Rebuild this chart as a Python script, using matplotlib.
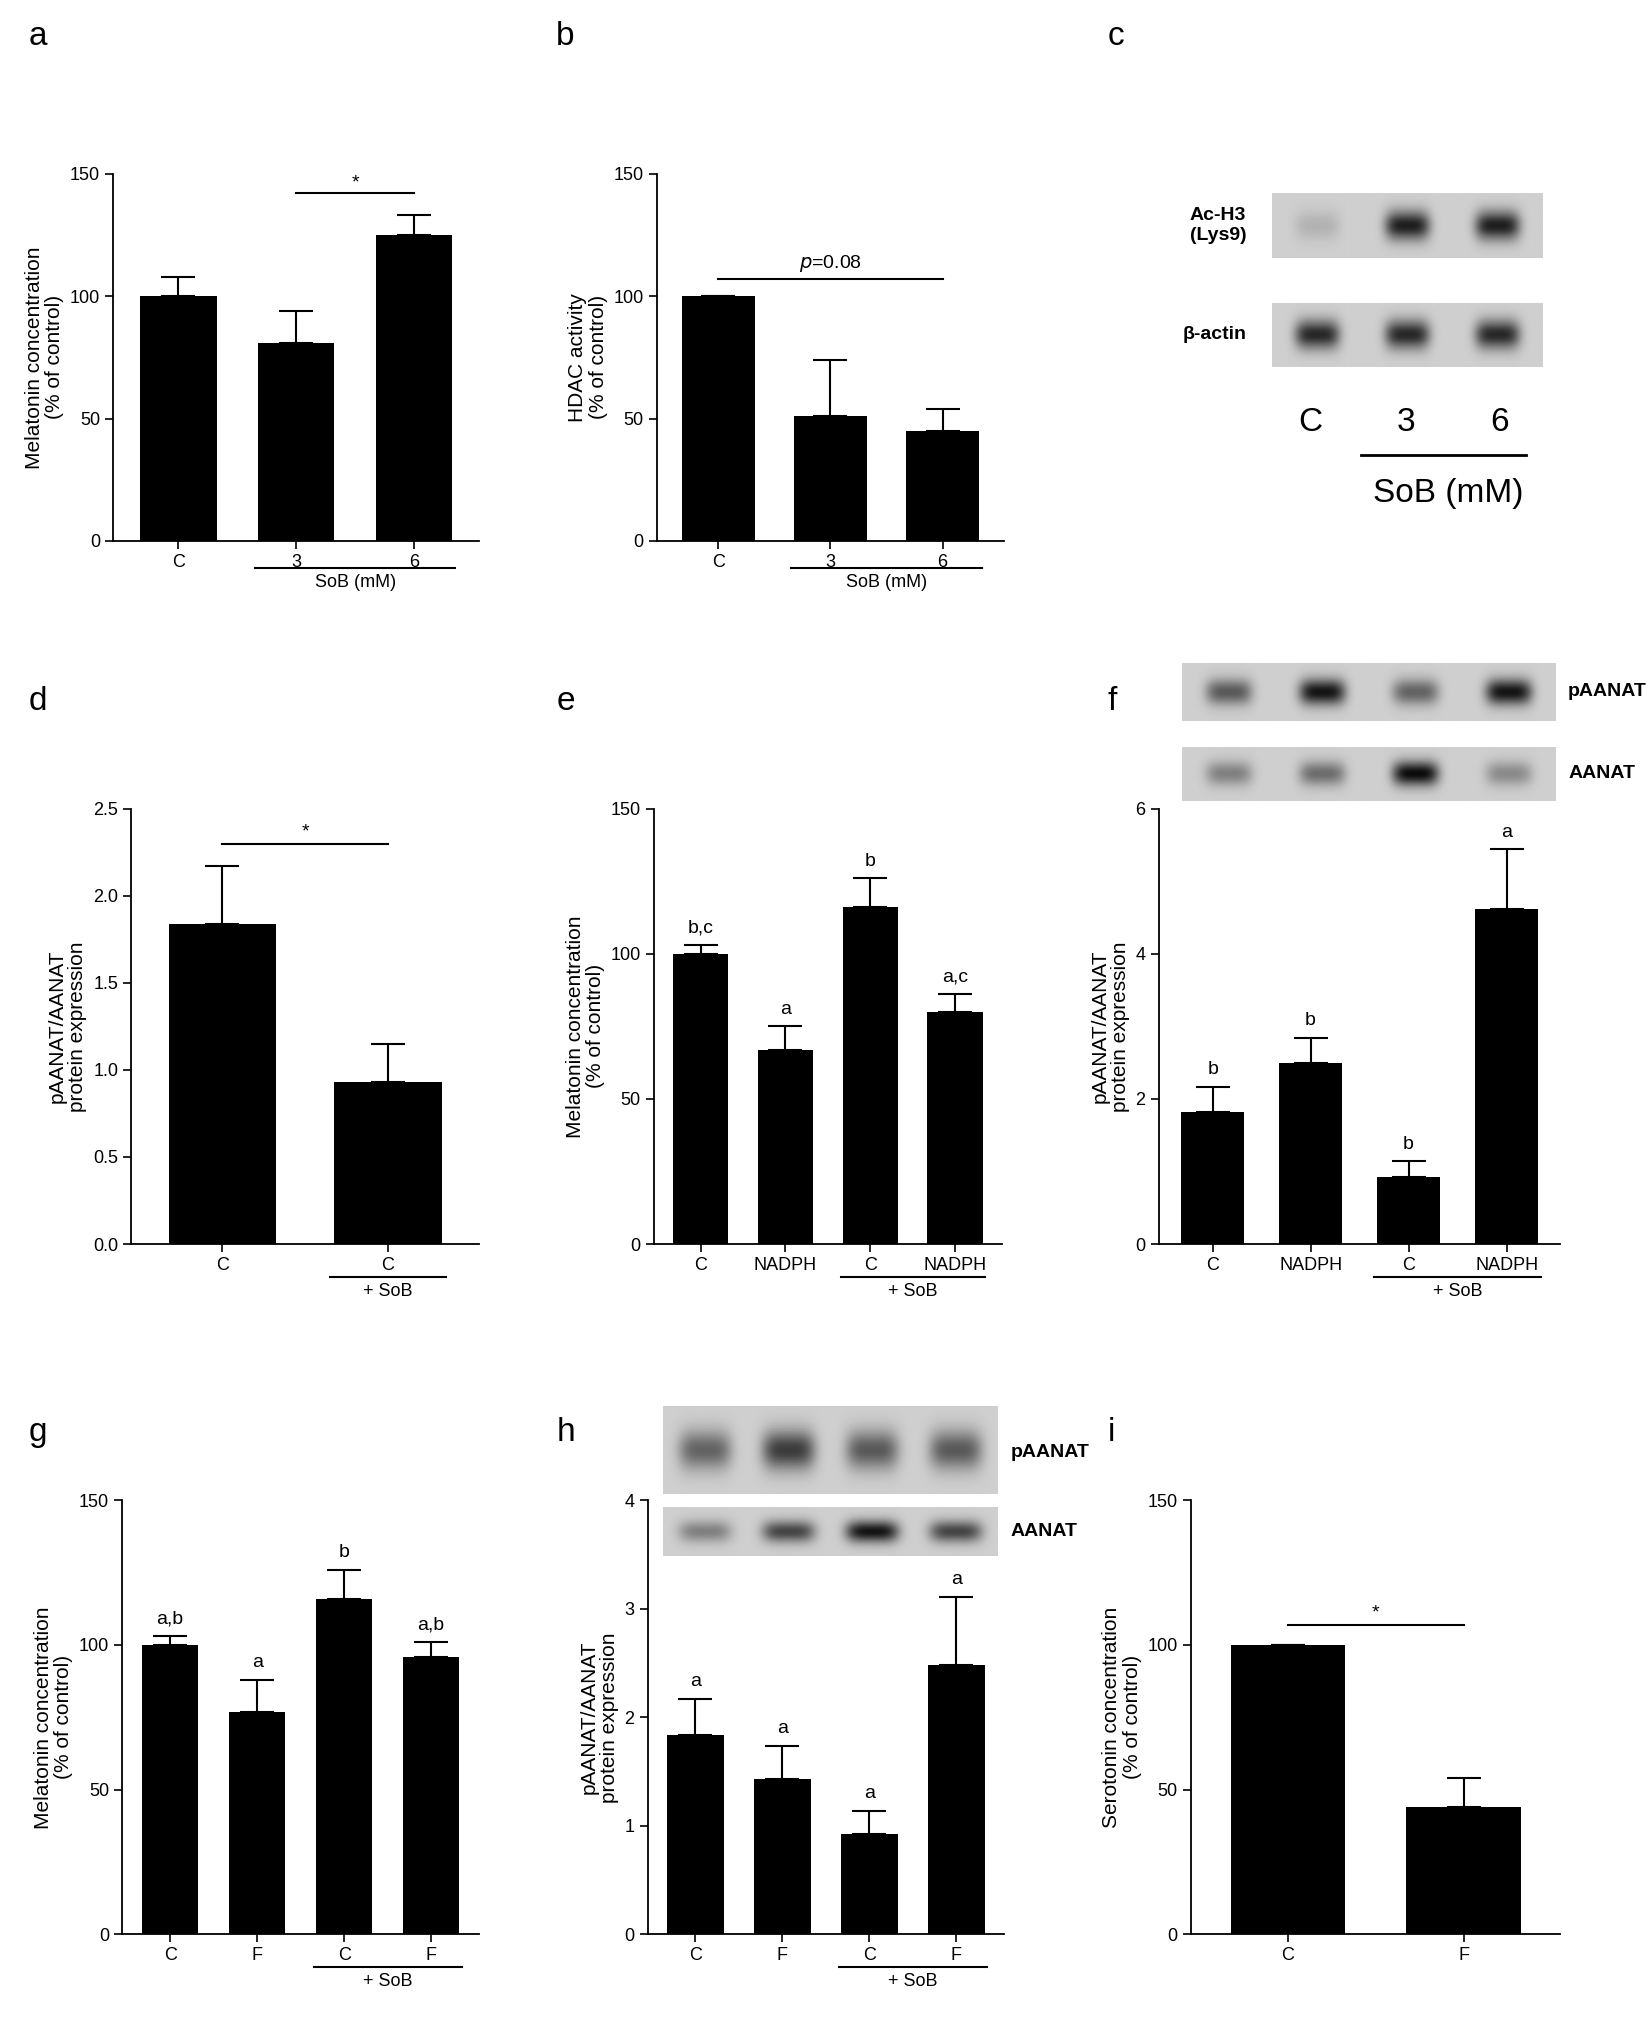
import numpy as np
import matplotlib
matplotlib.use("Agg")
import matplotlib.pyplot as plt

plt.rcParams["font.family"] = ["Liberation Sans", "DejaVu Sans"]
plt.rcParams["font.size"] = 12

W, H = 1280.0, 1567.0

# ---- data ----
a_lab = ["C", "3", "6"]
a_val = [100, 81, 125]
a_err = [8, 13, 8]

b_lab = ["C", "3", "6"]
b_val = [100, 51, 45]
b_err = [0, 23, 9]

d_lab = ["C", "C"]
d_val = [1.84, 0.93]
d_err = [0.33, 0.22]

e_lab = ["C", "NADPH", "C", "NADPH"]
e_val = [100, 67, 116, 80]
e_err = [3, 8, 10, 6]
e_let = ["b,c", "a", "b", "a,c"]

f_lab = ["C", "NADPH", "C", "NADPH"]
f_val = [1.82, 2.49, 0.92, 4.62]
f_err = [0.35, 0.35, 0.22, 0.82]
f_let = ["b", "b", "b", "a"]

g_lab = ["C", "F", "C", "F"]
g_val = [100, 77, 116, 96]
g_err = [3, 11, 10, 5]
g_let = ["a,b", "a", "b", "a,b"]

h_lab = ["C", "F", "C", "F"]
h_val = [1.84, 1.43, 0.92, 2.48]
h_err = [0.33, 0.31, 0.22, 0.63]
h_let = ["a", "a", "a", "a"]

i_lab = ["C", "F"]
i_val = [100, 44]
i_err = [0, 10]

c_ach3 = [0.15, 0.9, 0.9]
c_actin = [0.85, 0.85, 0.85]
f_p = [0.6, 0.95, 0.55, 0.95]
f_t = [0.4, 0.5, 1.0, 0.35]
h_p = [0.55, 0.75, 0.6, 0.6]
h_t = [0.4, 0.7, 0.95, 0.7]


def box(x0, y0, x1, y1):
    return [x0 / W, 1 - y1 / H, (x1 - x0) / W, (y1 - y0) / H]


fig = plt.figure(figsize=(16.48, 20.18), dpi=100)


def barpanel(rect, labels, vals, errs, ylim, ticks, ylabel, letters=None,
             group=None, tickfmt=None):
    ax = fig.add_axes(box(*rect))
    x = np.arange(len(vals))
    ax.bar(x, vals, width=0.65, color="black",
           yerr=[np.zeros(len(vals)), errs],
           error_kw=dict(capsize=12, elinewidth=1.5, capthick=1.5, ecolor="black"))
    ax.set_xlim(-0.55, len(vals) - 0.45)
    ax.set_ylim(*ylim)
    ax.set_yticks(ticks)
    if tickfmt:
        ax.set_yticklabels([tickfmt.format(t) for t in ticks])
    ax.set_xticks(x)
    ax.set_xticklabels(labels, fontsize=13)
    ax.tick_params(labelsize=13, width=1.2, length=6)
    ax.spines[["top", "right"]].set_visible(False)
    for s in ["left", "bottom"]:
        ax.spines[s].set_linewidth(1.3)
    ax.set_ylabel(ylabel, fontsize=15, linespacing=1.1)
    if letters:
        for xi, v, e, l in zip(x, vals, errs, letters):
            ax.text(xi, v + e + (ylim[1] * 0.02), l, ha="center", va="bottom", fontsize=14)
    if group:
        i0, i1, txt = group
        ax.plot([i0 - 0.35, i1 + 0.35], [-0.075 * ylim[1]] * 2, color="black",
                lw=1.5, clip_on=False)
        ax.text((i0 + i1) / 2, -0.09 * ylim[1], txt, ha="center", va="top", fontsize=13)
    return ax


def sig(ax, x0, x1, y, txt, dy=2):
    ax.plot([x0, x1], [y, y], color="black", lw=1.5)
    ax.text((x0 + x1) / 2, y + dy, txt, ha="center", va="bottom", fontsize=14)


def blot(rect, levels, label, bg="#cfcfcf", width=0.55):
    ax = fig.add_axes(box(*rect))
    n = len(levels)
    xx = np.linspace(0, n, 400)
    yy = np.linspace(-1, 1, 60)
    X, Y = np.meshgrid(xx, yy)
    img = np.zeros_like(X)
    for k, lv in enumerate(levels):
        img += lv * np.exp(-((X - k - 0.5) / (width * 0.45)) ** 4 - (Y / 0.45) ** 2)
    img = np.clip(img, 0, 1)
    base = int(bg[1:3], 16) / 255.0
    ax.imshow(base * (1 - img * 0.95), cmap="gray", vmin=0, vmax=1, aspect="auto",
              extent=[0, n, -1, 1])
    ax.set_xticks([])
    ax.set_yticks([])
    for s in ax.spines.values():
        s.set_visible(False)
    return ax


# panel a
ax = barpanel((88, 135, 372, 420), a_lab, a_val, a_err, (0, 150), [0, 50, 100, 150],
              "Melatonin concentration\n(% of control)", group=(1, 2, "SoB (mM)"))
sig(ax, 1, 2, 142, "*", 1)
# panel b
ax = barpanel((510, 135, 780, 420), b_lab, b_val, b_err, (0, 150), [0, 50, 100, 150],
              "HDAC activity\n(% of control)", group=(1, 2, "SoB (mM)"))
sig(ax, 0, 2, 107, "$p$=0.08", 2)
# panel c
a1 = blot((988, 150, 1198, 200), c_ach3, "")
a2 = blot((988, 235, 1198, 285), c_actin, "")
fig.text(968 / W, 1 - 175 / H, "Ac-H3\n(Lys9)", ha="right", va="center",
         fontsize=14, fontweight="bold")
fig.text(968 / W, 1 - 260 / H, "β-actin", ha="right", va="center",
         fontsize=14, fontweight="bold")
for xp, t in zip([1018, 1092, 1165], ["C", "3", "6"]):
    fig.text(xp / W, 1 - 328 / H, t, ha="center", va="center", fontsize=24)
fig.add_artist(plt.Line2D([1057 / W, 1185 / W], [1 - 353 / H] * 2, color="black", lw=2))
fig.text(1125 / W, 1 - 383 / H, "SoB (mM)", ha="center", va="center", fontsize=24)

# panel d
ax = barpanel((102, 628, 372, 966), d_lab, d_val, d_err, (0, 2.5),
              [0, 0.5, 1.0, 1.5, 2.0, 2.5], "pAANAT/AANAT\nprotein expression",
              group=(1, 1, "+ SoB"), tickfmt="{:.1f}")
sig(ax, 0, 1, 2.3, "*", 0.02)
# panel e
barpanel((508, 628, 778, 966), e_lab, e_val, e_err, (0, 150), [0, 50, 100, 150],
         "Melatonin concentration\n(% of control)", letters=e_let, group=(2, 3, "+ SoB"))
# panel f
barpanel((900, 628, 1212, 966), f_lab, f_val, f_err, (0, 6), [0, 2, 4, 6],
         "pAANAT/AANAT\nprotein expression", letters=f_let, group=(2, 3, "+ SoB"))
blot((918, 515, 1208, 560), f_p, "")
blot((918, 580, 1208, 622), f_t, "")
fig.text(1218 / W, 1 - 537 / H, "pAANAT", ha="left", va="center", fontsize=14, fontweight="bold")
fig.text(1218 / W, 1 - 601 / H, "AANAT", ha="left", va="center", fontsize=14, fontweight="bold")

# panel g
barpanel((95, 1165, 372, 1502), g_lab, g_val, g_err, (0, 150), [0, 50, 100, 150],
         "Melatonin concentration\n(% of control)", letters=g_let, group=(2, 3, "+ SoB"))
# panel h
barpanel((503, 1165, 780, 1502), h_lab, h_val, h_err, (0, 4), [0, 1, 2, 3, 4],
         "pAANAT/AANAT\nprotein expression", letters=h_let, group=(2, 3, "+ SoB"))
blot((515, 1092, 775, 1160), h_p, "", width=0.7)
blot((515, 1170, 775, 1208), h_t, "", width=0.7)
fig.text(785 / W, 1 - 1128 / H, "pAANAT", ha="left", va="center", fontsize=14, fontweight="bold")
fig.text(785 / W, 1 - 1189 / H, "AANAT", ha="left", va="center", fontsize=14, fontweight="bold")
# panel i
ax = barpanel((925, 1165, 1212, 1502), i_lab, i_val, i_err, (0, 150), [0, 50, 100, 150],
              "Serotonin concentration\n(% of control)")
sig(ax, 0, 1, 107, "*", 1)

# panel letters
for (xp, yp, t) in [(22, 28, "a"), (432, 28, "b"), (860, 28, "c"),
                    (22, 545, "d"), (432, 545, "e"), (860, 545, "f"),
                    (22, 1112, "g"), (432, 1112, "h"), (860, 1112, "i")]:
    fig.text(xp / W, 1 - yp / H, t, ha="left", va="center", fontsize=24)

fig.savefig("out.png", dpi=100)
